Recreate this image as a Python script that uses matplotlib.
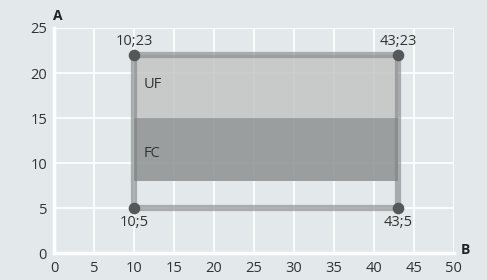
import numpy as np
import matplotlib.pyplot as plt

plt.rcParams['font.family'] = ['Open Sans', 'DejaVu Sans']

# corner points of the budget box (drawn position) and their labels
pt_x = [10, 43, 43, 10]
pt_y = [5, 5, 22, 22]
pt_labels = ['10;5', '43;5', '43;23', '10;23']

# shaded bands
bands = ['FC', 'UF']
band_lo = [8, 15]
band_hi = [15, 22]
band_col = ['#949696', '#c6c7c7']

bg = '#e3e9eb'
fig = plt.figure(figsize=(4.87, 2.80), dpi=100, facecolor=bg)
ax = fig.add_axes([0.111, 0.096, 0.821, 0.804])
ax.set_facecolor(bg)

ax.set_xlim(0, 50)
ax.set_ylim(0, 25)
ax.set_xticks(np.arange(0, 51, 5))
ax.set_yticks(np.arange(0, 26, 5))
ax.grid(True, color='white', lw=1.2, zorder=0)
ax.tick_params(length=0, labelsize=10.5, labelcolor='#333333')
ax.tick_params(axis='x', pad=6)
ax.tick_params(axis='y', pad=5)
for s in ['top', 'right']:
    ax.spines[s].set_visible(False)
for s in ['left', 'bottom']:
    ax.spines[s].set_color('white')
    ax.spines[s].set_linewidth(2.5)
ax.set_axisbelow(True)

x0, x1 = min(pt_x), max(pt_x)
lab_dy = [-0.4, 0.2]
for name, lo, hi, c, dy in zip(bands, band_lo, band_hi, band_col, lab_dy):
    ax.fill_between([x0, x1], lo, hi, color=c, alpha=0.9, lw=0, zorder=2)
    ax.text(x0 + 1.2, (lo + hi) / 2 + dy, name, fontsize=10.5, color='#333333',
            va='center', ha='left', zorder=5)

# box outline
bx = pt_x + [pt_x[0]]
by = pt_y + [pt_y[0]]
ax.plot(bx, by, color='#7f8283', lw=4.5, alpha=0.6, solid_capstyle='butt', zorder=3)
ax.scatter(pt_x, pt_y, s=70, color='#555859', zorder=4, lw=0)

offs = [(0, -1.65), (0, -1.65), (0, 1.5), (0, 1.5)]
for x, y, lab, (dx, dy) in zip(pt_x, pt_y, pt_labels, offs):
    ax.text(x + dx, y + dy, lab, ha='center', va='center', fontsize=10.5,
            color='#333333', zorder=5)

ax.text(0.5, 26.3, 'A', fontsize=10, fontweight='bold', color='#222222',
        ha='center', va='center', clip_on=False)
ax.text(51.5, 0.4, 'B', fontsize=10, fontweight='bold', color='#222222',
        ha='center', va='center', clip_on=False)

fig.savefig('out.png', dpi=100, facecolor=bg)
